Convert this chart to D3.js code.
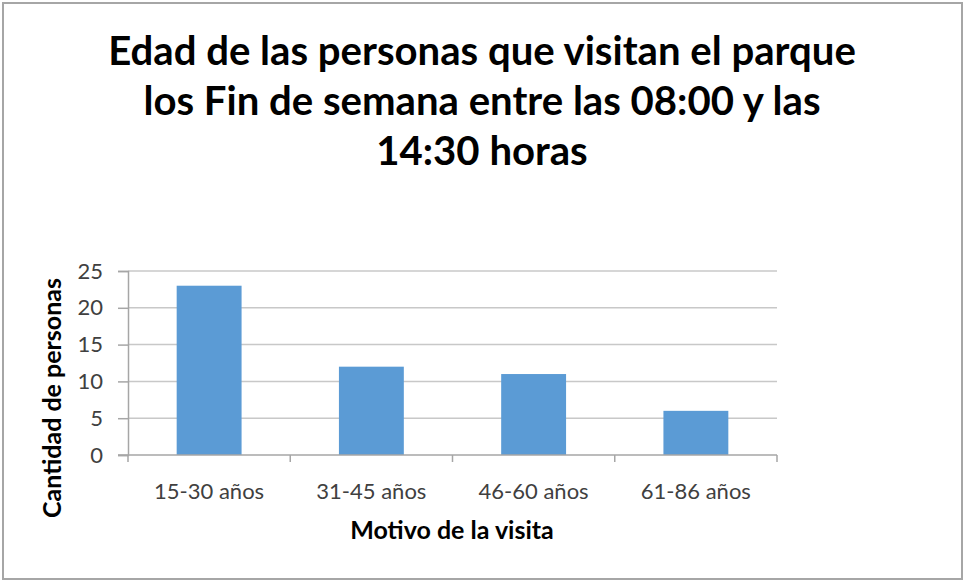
<!DOCTYPE html>
<html>
<head>
<meta charset="utf-8">
<script src="https://d3js.org/d3.v7.min.js"></script>
<style>
  body { margin: 0; background: #fff; }
  text { font-family: Lato, "Open Sans", sans-serif; }
</style>
</head>
<body>
<div id="container"></div>
<script>
// data
const categories = ["15-30 años", "31-45 años", "46-60 años", "61-86 años"];
const values = [23, 12, 11, 6];
const yTicks = [0, 5, 10, 15, 20, 25];
const titleLines = [
  "Edad de las personas que visitan el parque",
  "los Fin de semana entre las 08:00 y las",
  "14:30 horas"
];
const xLabel = "Motivo de la visita";
const yLabel = "Cantidad de personas";

const W = 965, H = 582;
const plot = {left: 128, right: 777, top: 271, bottom: 455};

const svg = d3.select("#container").append("svg")
  .attr("width", W).attr("height", H);

// outer frame
svg.append("rect")
  .attr("x", 3).attr("y", 3)
  .attr("width", W - 6).attr("height", H - 6)
  .attr("fill", "#fff")
  .attr("stroke", "#a6a6a6")
  .attr("stroke-width", 2);

// title, fitted to the width of the first line
const title = svg.append("g");
titleLines.forEach(function(t, i) {
  title.append("text")
    .attr("x", 482)
    .attr("y", 65 + i * 50)
    .attr("text-anchor", "middle")
    .attr("font-weight", "bold")
    .attr("font-size", 32)
    .attr("fill", "#000")
    .text(t);
});
const firstW = title.select("text").node().getComputedTextLength();
title.selectAll("text").attr("font-size", 32 * 748 / firstW);

const x = d3.scaleBand()
  .domain(categories)
  .range([plot.left, plot.right])
  .paddingInner(0.6)
  .paddingOuter(0.3);

const y = d3.scaleLinear()
  .domain([0, 25])
  .range([plot.bottom, plot.top]);

// gridlines
svg.append("g")
  .selectAll("line")
  .data(yTicks.filter(d => d > 0))
  .join("line")
  .attr("x1", plot.left).attr("x2", plot.right)
  .attr("y1", d => y(d)).attr("y2", d => y(d))
  .attr("stroke", "#c8c8c8")
  .attr("stroke-width", 1.5);

// bars
svg.append("g")
  .selectAll("rect")
  .data(values)
  .join("rect")
  .attr("x", (d, i) => x(categories[i]))
  .attr("y", d => y(d))
  .attr("width", x.bandwidth())
  .attr("height", d => y(0) - y(d))
  .attr("fill", "#5b9bd5");

// y axis
const yAxis = svg.append("g")
  .attr("transform", "translate(" + plot.left + ",0)")
  .call(d3.axisLeft(y).tickValues(yTicks).tickSize(10).tickPadding(15));
yAxis.select(".domain").attr("stroke", "#a6a6a6").attr("stroke-width", 1.5);
yAxis.selectAll(".tick line").attr("stroke", "#a6a6a6").attr("stroke-width", 1.5);
yAxis.selectAll("text")
  .attr("font-size", 22)
  .attr("font-family", "Lato, sans-serif")
  .attr("fill", "#404040");

// x axis, ticks between categories
const xPos = d3.scaleLinear().domain([0, 4]).range([plot.left, plot.right]);
const xAxis = svg.append("g")
  .attr("transform", "translate(0," + plot.bottom + ")");
xAxis.append("line")
  .attr("x1", plot.left - 10).attr("x2", plot.right)
  .attr("stroke", "#a6a6a6").attr("stroke-width", 1.5);
xAxis.selectAll(".tk")
  .data(d3.range(5))
  .join("line")
  .attr("class", "tk")
  .attr("x1", d => xPos(d)).attr("x2", d => xPos(d))
  .attr("y1", 0).attr("y2", 7)
  .attr("stroke", "#a6a6a6").attr("stroke-width", 1.5);
xAxis.selectAll(".lbl")
  .data(categories)
  .join("text")
  .attr("class", "lbl")
  .attr("x", d => x(d) + x.bandwidth() / 2)
  .attr("y", 44)
  .attr("text-anchor", "middle")
  .attr("font-size", 22)
  .attr("fill", "#404040")
  .text(d => d);

// axis titles
svg.append("text")
  .attr("x", 452).attr("y", 539)
  .attr("text-anchor", "middle")
  .attr("font-weight", "bold")
  .attr("font-size", 25)
  .attr("fill", "#000")
  .text(xLabel);

svg.append("text")
  .attr("transform", "translate(61,398) rotate(-90)")
  .attr("text-anchor", "middle")
  .attr("font-weight", "bold")
  .attr("font-size", 25)
  .attr("fill", "#000")
  .text(yLabel);
</script>
</body>
</html>
